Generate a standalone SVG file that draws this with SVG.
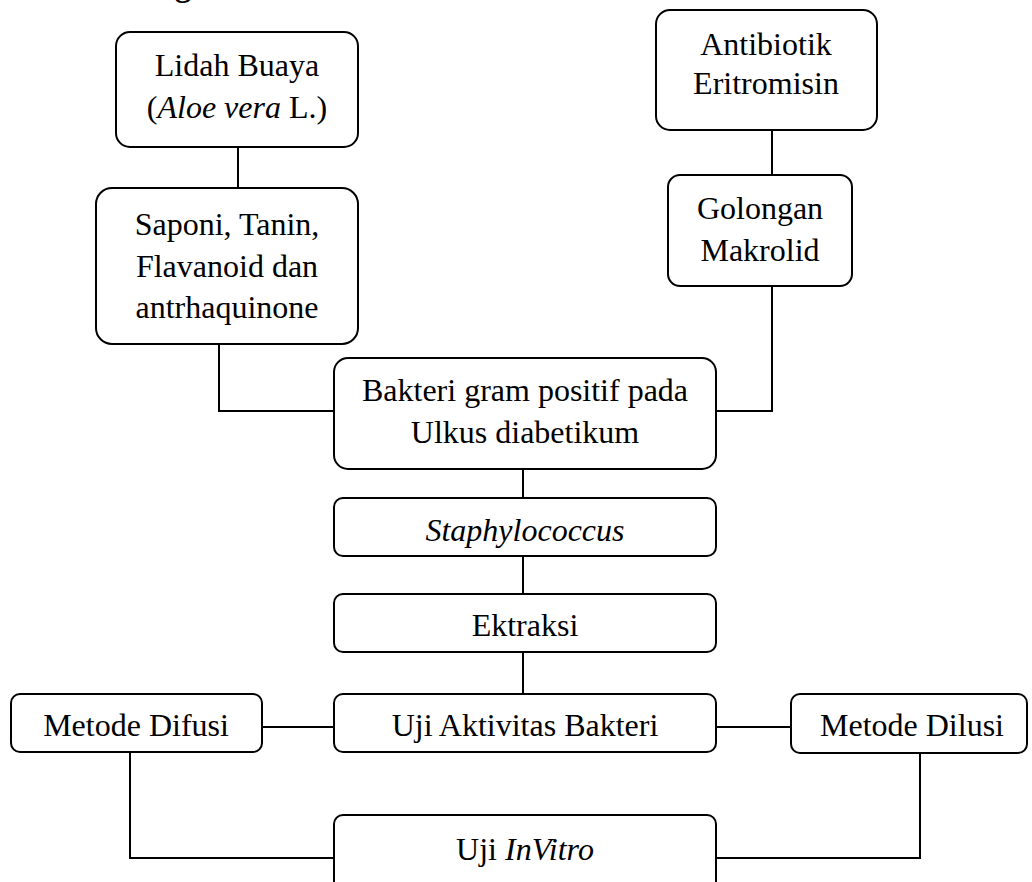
<svg xmlns="http://www.w3.org/2000/svg" width="1032" height="882" viewBox="0 0 1032 882">
<style>
.box{fill:#fff;stroke:#000;stroke-width:2}
.ln{fill:none;stroke:#000;stroke-width:2}
text{font-family:"Liberation Serif","Times New Roman",serif;font-size:32px;fill:#000;text-anchor:middle}
.i{font-style:italic}
</style>
<rect width="1032" height="882" fill="#fff"/>
<text x="183" y="-4" style="font-weight:bold">g</text>
<g id="connectors">
<path class="ln" d="M238 147V188"/>
<path class="ln" d="M219 344V411H334"/>
<path class="ln" d="M772 130V175"/>
<path class="ln" d="M772 286V411H716"/>
<path class="ln" d="M523 469V498"/>
<path class="ln" d="M523 556V594"/>
<path class="ln" d="M523 652V694"/>
<path class="ln" d="M262 727H334"/>
<path class="ln" d="M716 727H791"/>
<path class="ln" d="M130 752V858H334"/>
<path class="ln" d="M920 753V858H716"/>
</g>
<g id="lidah">
<rect class="box" x="116" y="32" width="242" height="115" rx="14"/>
<text x="237" y="76">Lidah Buaya</text>
<text x="237" y="118">(<tspan class="i">Aloe vera</tspan> L.)</text>
</g>
<g id="saponi">
<rect class="box" x="96" y="188" width="262" height="156" rx="16"/>
<text x="227" y="235">Saponi, Tanin,</text>
<text x="227" y="277">Flavanoid dan</text>
<text x="227" y="318">antrhaquinone</text>
</g>
<g id="antibiotik">
<rect class="box" x="656" y="10" width="221" height="120" rx="14"/>
<text x="766" y="55">Antibiotik</text>
<text x="766" y="94">Eritromisin</text>
</g>
<g id="golongan">
<rect class="box" x="668" y="175" width="184" height="111" rx="12"/>
<text x="760" y="219">Golongan</text>
<text x="760" y="261">Makrolid</text>
</g>
<g id="bakteri">
<rect class="box" x="334" y="358" width="382" height="111" rx="14"/>
<text x="525" y="401">Bakteri gram positif pada</text>
<text x="525" y="443">Ulkus diabetikum</text>
</g>
<g id="staph">
<rect class="box" x="334" y="498" width="382" height="58" rx="9"/>
<text x="525" y="541" class="i">Staphylococcus</text>
</g>
<g id="ektraksi">
<rect class="box" x="334" y="594" width="382" height="58" rx="9"/>
<text x="525" y="636">Ektraksi</text>
</g>
<g id="ujiaktivitas">
<rect class="box" x="334" y="694" width="382" height="58" rx="9"/>
<text x="525" y="736">Uji Aktivitas Bakteri</text>
</g>
<g id="difusi">
<rect class="box" x="11" y="694" width="251" height="58" rx="9"/>
<text x="136" y="736">Metode Difusi</text>
</g>
<g id="dilusi">
<rect class="box" x="791" y="694" width="236" height="59" rx="9"/>
<text x="912" y="736">Metode Dilusi</text>
</g>
<g id="invitro">
<rect class="box" x="334" y="815" width="382" height="95" rx="9"/>
<text x="525" y="860">Uji <tspan class="i">InVitro</tspan></text>
</g>
</svg>
